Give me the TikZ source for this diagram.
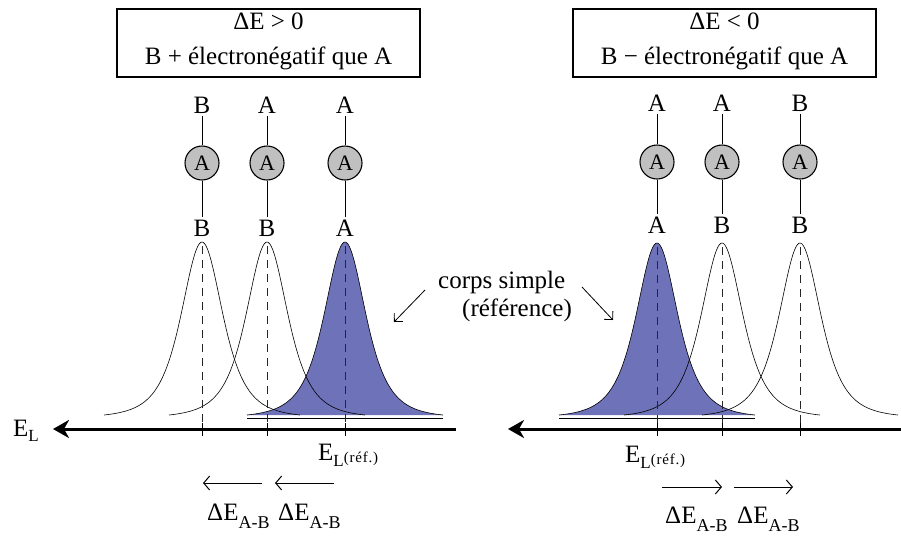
\documentclass[tikz,border=0pt]{standalone}
\usepackage{fontspec}
\setmainfont{Liberation Serif}
\usetikzlibrary{arrows.meta}
\definecolor{peakblue}{RGB}{110,114,184}
\definecolor{atomgray}{RGB}{192,192,192}
\begin{document}
\begin{tikzpicture}[x=1pt,y=-1pt,
  every node/.style={font=\fontsize{25}{30}\selectfont, inner sep=0pt},
  lbl/.style={inner sep=2.5pt},
  atom/.style={circle, draw, fill=atomgray, line width=1.1pt, minimum size=34pt, inner sep=0pt, font=\fontsize{22}{26}\selectfont},
  bond/.style={line width=1pt},
  titlebox/.style={draw, line width=1.2pt, minimum width=303pt, minimum height=68pt},
  peakline/.style={line width=0.6pt},
  guide/.style={dash pattern=on 8pt off 6pt, line width=1pt, black!85},
  energyaxis/.style={line width=3pt, -{Stealth[length=16pt,width=18pt,inset=5pt]}},
  axistick/.style={line width=1pt},
  deltaarrow/.style={line width=1pt, -{Straight Barb[length=6pt,width=14pt]}},
  pointer/.style={line width=0.8pt, -{Straight Barb[length=6pt,width=12pt]}},
]
\useasboundingbox (0,0) rectangle (901,539);

% ---------- title boxes ----------
\node[titlebox] (box1) at (268.5,43) {};
\node[anchor=base] (box1a) at (268.5,29) {ΔE > 0};
\node[anchor=base] (box1b) at (268.5,64) {B + électronégatif que A};
\node[titlebox] (box2) at (724.5,43) {};
\node[anchor=base] (box2a) at (724.5,29) {ΔE < 0};
\node[anchor=base] (box2b) at (724.5,64) {B − électronégatif que A};

% ---------- peaks ----------
\fill[peakblue] plot[domain=-98:98, samples=141, smooth] ({345+\x},{418-176/((1+(\x/38)*(\x/38))*(1+(\x/38)*(\x/38)))}) -- cycle;
\fill[peakblue] plot[domain=-98:98, samples=141, smooth] ({657+\x},{418-175/((1+(\x/38)*(\x/38))*(1+(\x/38)*(\x/38)))}) -- cycle;

\foreach \cx in {202,267,345}{
  \draw[peakline] plot[domain=-98:98, samples=141, smooth] ({\cx+\x},{418-176/((1+(\x/38)*(\x/38))*(1+(\x/38)*(\x/38)))});
}
\foreach \cx in {657,722,800}{
  \draw[peakline] plot[domain=-98:98, samples=141, smooth] ({\cx+\x},{418-175/((1+(\x/38)*(\x/38))*(1+(\x/38)*(\x/38)))});
}
\draw[peakline] (247,418) -- (443,418);
\draw[peakline] (559,418) -- (755,418);

% ---------- dashed guides ----------
\foreach \cx in {202,267,345}{ \draw[guide] (\cx,246) -- (\cx,428); }
\foreach \cx in {657,722,800}{ \draw[guide] (\cx,247) -- (\cx,428); }

% ---------- axes ----------
\coordinate (axL1) at (456,429);
\coordinate (axL0) at (53,429);
\coordinate (axR1) at (901,429);
\coordinate (axR0) at (508,429);
\draw[energyaxis] (axL1) -- (axL0);
\draw[energyaxis] (axR1) -- (axR0);
\foreach \cx in {202,267,345,657,722,800}{ \draw[axistick] (\cx,423) -- (\cx,436); }

\node[anchor=base west] (EL) at (13,436) {E\raisebox{-5pt}{\fontsize{17}{20}\selectfont L}};
\node[anchor=base west] (ELref1) at (318,460) {E\raisebox{-6pt}{\fontsize{17}{20}\selectfont L\raisebox{4pt}{\fontsize{15}{17}\selectfont\addfontfeature{LetterSpace=5}(réf.)}}};
\node[anchor=base west] (ELref2) at (625,462) {E\raisebox{-6pt}{\fontsize{17}{20}\selectfont L\raisebox{4pt}{\fontsize{15}{17}\selectfont\addfontfeature{LetterSpace=5}(réf.)}}};

% ---------- molecules left ----------
\node[lbl] (lt1) at (202,105) {B};
\node[atom] (la1) at (202,163) {A};
\node[lbl] (lb1) at (202,228) {B};
\node[lbl] (lt2) at (267,105) {A};
\node[atom] (la2) at (267,163) {A};
\node[lbl] (lb2) at (267,228) {B};
\node[lbl] (lt3) at (345,105) {A};
\node[atom] (la3) at (345,163) {A};
\node[lbl] (lb3) at (345,228) {A};
\draw[bond] (lt1) -- (la1) -- (lb1);
\draw[bond] (lt2) -- (la2) -- (lb2);
\draw[bond] (lt3) -- (la3) -- (lb3);

% ---------- molecules right ----------
\node[lbl] (rt1) at (657,103) {A};
\node[atom] (ra1) at (657,162) {A};
\node[lbl] (rb1) at (657,225) {A};
\node[lbl] (rt2) at (722,103) {A};
\node[atom] (ra2) at (722,162) {A};
\node[lbl] (rb2) at (722,225) {B};
\node[lbl] (rt3) at (800,103) {B};
\node[atom] (ra3) at (800,162) {A};
\node[lbl] (rb3) at (800,225) {B};
\draw[bond] (rt1) -- (ra1) -- (rb1);
\draw[bond] (rt2) -- (ra2) -- (rb2);
\draw[bond] (rt3) -- (ra3) -- (rb3);

% ---------- corps simple ----------
\node[anchor=base west] (cs1) at (438,288) {corps simple};
\node[anchor=base west] (cs2) at (462,316) {(référence)};
\coordinate (pL0) at (425,290);
\coordinate (pL1) at (394,322);
\coordinate (pR0) at (582,287);
\coordinate (pR1) at (613,320);
\draw[pointer] (pL0) -- (pL1);
\draw[pointer] (pR0) -- (pR1);

% ---------- shifts ----------
\coordinate (dl1a) at (262,483); \coordinate (dl1b) at (203,483);
\coordinate (dl2a) at (334,483); \coordinate (dl2b) at (275,483);
\coordinate (dr1a) at (662,487); \coordinate (dr1b) at (722,487);
\coordinate (dr2a) at (734,487); \coordinate (dr2b) at (793,487);
\draw[deltaarrow] (dl1a) -- (dl1b);
\draw[deltaarrow] (dl2a) -- (dl2b);
\draw[deltaarrow] (dr1a) -- (dr1b);
\draw[deltaarrow] (dr2a) -- (dr2b);
\node[anchor=base west] (dEl1) at (207,520) {ΔE\raisebox{-8pt}{\fontsize{18}{20}\selectfont A-B}};
\node[anchor=base west] (dEl2) at (278,520) {ΔE\raisebox{-8pt}{\fontsize{18}{20}\selectfont A-B}};
\node[anchor=base west] (dEr1) at (665,523) {ΔE\raisebox{-8pt}{\fontsize{18}{20}\selectfont A-B}};
\node[anchor=base west] (dEr2) at (737,523) {ΔE\raisebox{-8pt}{\fontsize{18}{20}\selectfont A-B}};
\end{tikzpicture}
\end{document}
